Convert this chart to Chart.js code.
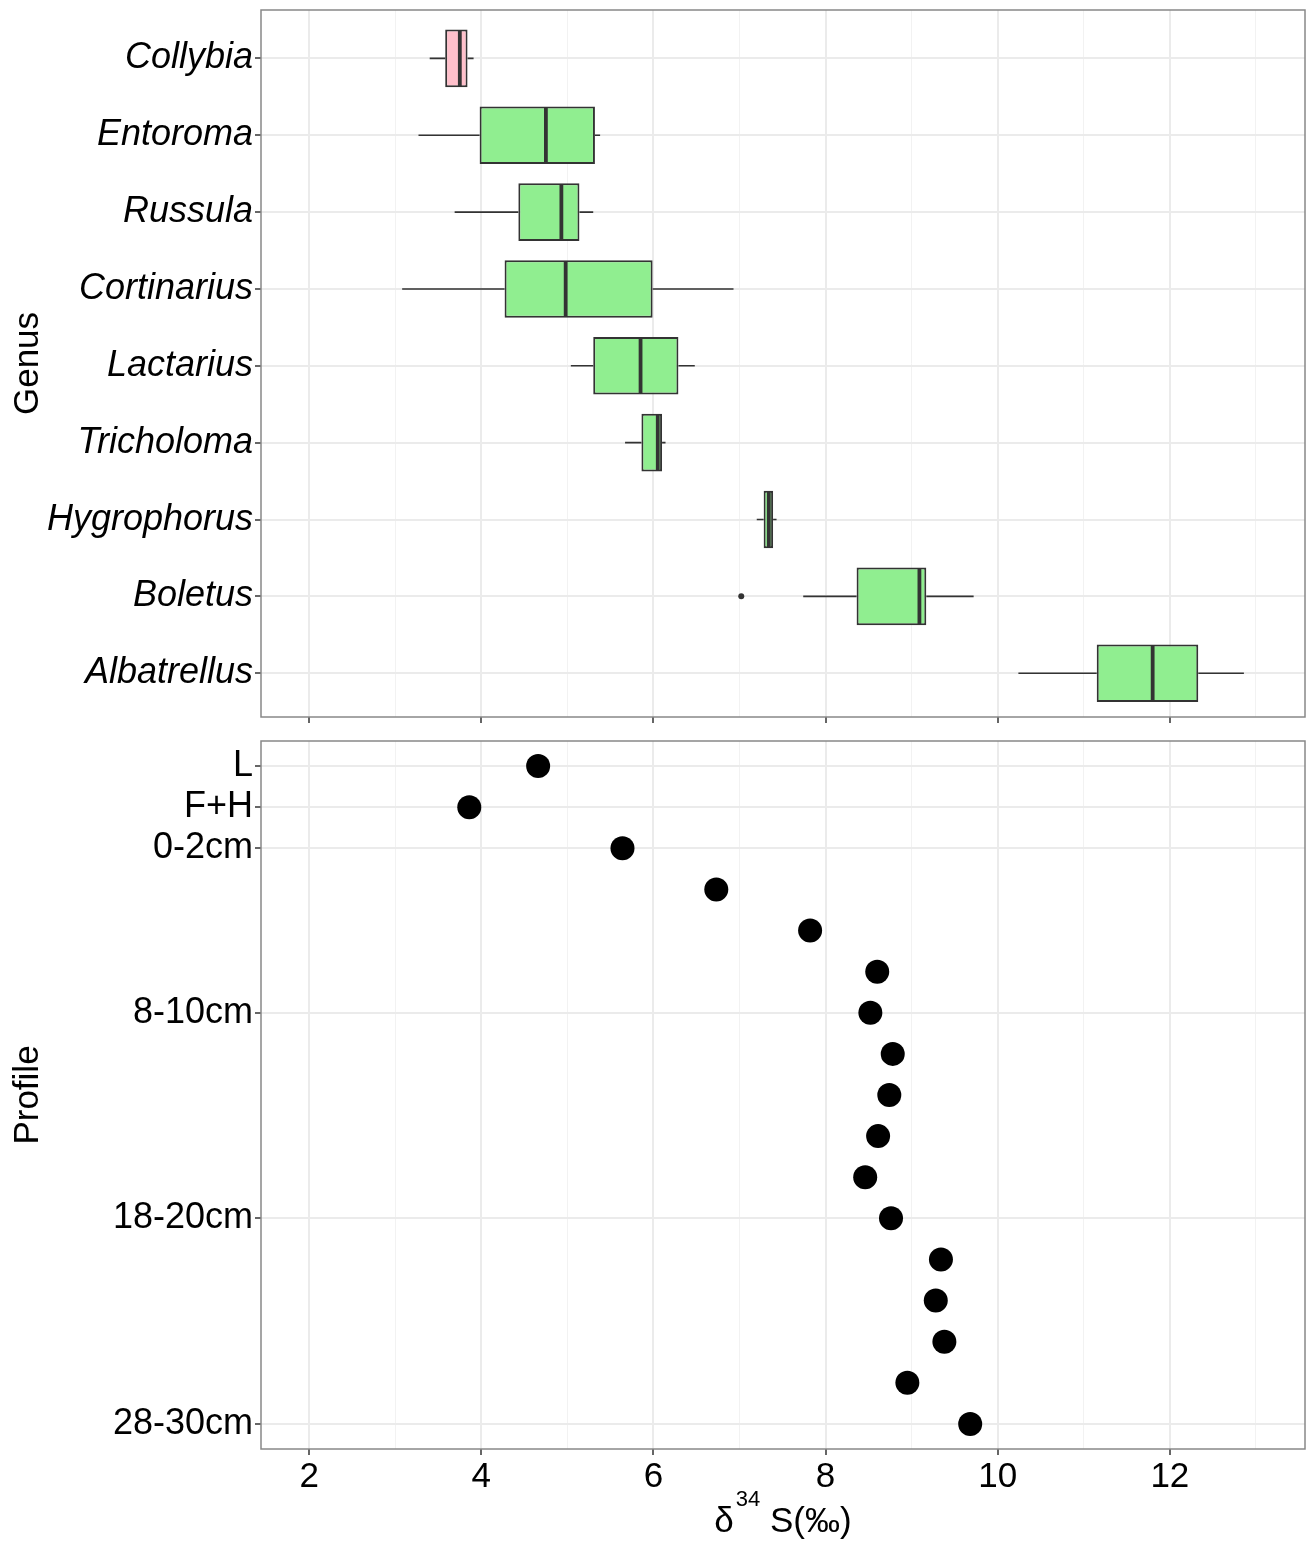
<!DOCTYPE html>
<html>
<head>
<meta charset="utf-8">
<script src="https://cdn.jsdelivr.net/npm/chart.js@4.4.0/dist/chart.umd.min.js"></script>
<style>
  html, body { margin: 0; padding: 0; background: #fff; }
  #wrap { position: relative; width: 1310px; height: 1544px; }
  canvas { position: absolute; left: 0; }
</style>
</head>
<body>
<div id="wrap">
  <canvas id="genusChart" width="1310" height="729" style="top:0;width:1310px;height:729px"></canvas>
  <canvas id="profileChart" width="1310" height="815" style="top:729px;width:1310px;height:815px"></canvas>
</div>
<script>
// Boxplot data per genus (d34S, permil)
const genera = ['Collybia', 'Entoroma', 'Russula', 'Cortinarius', 'Lactarius', 'Tricholoma', 'Hygrophorus', 'Boletus', 'Albatrellus'];
const boxLow    = [3.40, 3.27, 3.69, 3.08, 5.04, 5.67, 7.20, 7.74, 10.24];
const boxQ1     = [3.58, 3.98, 4.43, 4.27, 5.30, 5.86, 7.28, 8.36, 11.15];
const boxMedian = [3.75, 4.75, 4.93, 4.98, 5.85, 6.05, 7.34, 9.09, 11.80];
const boxQ3     = [3.84, 5.32, 5.14, 5.99, 6.29, 6.10, 7.39, 9.17, 12.33];
const boxHigh   = [3.91, 5.38, 5.30, 6.93, 6.48, 6.14, 7.43, 9.72, 12.86];
const boxColors = ['#ffc0cb', '#90ee90', '#90ee90', '#90ee90', '#90ee90', '#90ee90', '#90ee90', '#90ee90', '#90ee90'];
const outlierGenus  = ['Boletus'];
const outlierValues = [7.02];

// Soil profile
const depthLabels = ['L', 'F+H', '0-2cm', '2-4cm', '4-6cm', '6-8cm', '8-10cm', '10-12cm', '12-14cm', '14-16cm',
                     '16-18cm', '18-20cm', '20-22cm', '22-24cm', '24-26cm', '26-28cm', '28-30cm'];
const profileValues = [4.66, 3.86, 5.64, 6.73, 7.82, 8.60, 8.52, 8.78, 8.74, 8.61, 8.46, 8.76, 9.34, 9.28, 9.38, 8.95, 9.68];
const profileTickLabels = ['L', 'F+H', '0-2cm', '8-10cm', '18-20cm', '28-30cm'];

const xTickValues = [2, 3, 4, 5, 6, 7, 8, 9, 10, 11, 12, 13];

const FONT = "'Liberation Sans', Arial, sans-serif";
Chart.defaults.font.family = FONT;
Chart.defaults.animation = false;

const isMajor = c => c.tick && c.tick.value % 2 === 0;

// fixed axis width, no extra label padding
function fixWidth(s) {
    s.width = 261;
    s.paddingTop = 0;
    s.paddingBottom = 0;
}

function xScaleOptions(showLabels) {
    return {
        type: 'linear',
        min: 1.44,
        max: 13.57,
        offset: false,
        afterBuildTicks: s => { s.ticks = xTickValues.map(v => ({ value: v })); },
        afterFit: s => { s.height = showLabels ? 95 : 12; s.paddingLeft = 0; s.paddingRight = 0; },
        border: { display: false },
        grid: {
            offset: false,
            color: c => isMajor(c) ? '#ebebeb' : '#f2f2f2',
            lineWidth: c => isMajor(c) ? 2 : 1,
            tickColor: c => isMajor(c) ? '#333' : 'rgba(0,0,0,0)',
            tickLength: 6,
            tickWidth: 1.5
        },
        ticks: {
            display: showLabels,
            autoSkip: false,
            maxRotation: 0,
            padding: 1,
            color: '#000',
            font: { size: 35 },
            callback: v => v % 2 === 0 ? String(v) : ''
        }
    };
}

// panel border all round
const panelBorder = {
    id: 'panelBorder',
    afterDraw(chart) {
        const { ctx, chartArea: a } = chart;
        ctx.save();
        ctx.strokeStyle = '#888';
        ctx.lineWidth = 1.5;
        ctx.strokeRect(a.left, a.top, a.right - a.left, a.bottom - a.top);
        ctx.restore();
    }
};

// whiskers and medians
const boxWhiskers = {
    id: 'boxWhiskers',
    afterDatasetsDraw(chart) {
        const { ctx, scales: { x, y } } = chart;
        const bars = chart.getDatasetMeta(0).data;
        ctx.save();
        ctx.strokeStyle = '#333';
        genera.forEach((g, i) => {
            const yc = y.getPixelForValue(i);
            const half = bars[i].height / 2;
            ctx.lineWidth = 1.6;
            ctx.beginPath();
            ctx.moveTo(x.getPixelForValue(boxLow[i]), yc);
            ctx.lineTo(x.getPixelForValue(boxQ1[i]), yc);
            ctx.moveTo(x.getPixelForValue(boxQ3[i]), yc);
            ctx.lineTo(x.getPixelForValue(boxHigh[i]), yc);
            ctx.stroke();
            const xm = x.getPixelForValue(boxMedian[i]);
            ctx.lineWidth = 3.8;
            ctx.beginPath();
            ctx.moveTo(xm, yc - half + 1);
            ctx.lineTo(xm, yc + half - 1);
            ctx.stroke();
        });
        ctx.restore();
    }
};

// x axis title with superscript
const deltaTitle = {
    id: 'deltaTitle',
    afterDraw(chart) {
        const { ctx, chartArea: a } = chart;
        const cx = (a.left + a.right) / 2;
        const cy = a.bottom + 73;
        ctx.save();
        ctx.fillStyle = '#000';
        ctx.textBaseline = 'middle';
        ctx.textAlign = 'left';
        const big = '35px ' + FONT, small = '22px ' + FONT;
        ctx.font = big;
        const w1 = ctx.measureText('\u03b4').width;
        const w3 = ctx.measureText(' S(\u2030)').width;
        ctx.font = small;
        const w2 = ctx.measureText('34').width;
        let x0 = cx - (w1 + 2 + w2 + w3) / 2;
        ctx.font = big;
        ctx.fillText('\u03b4', x0, cy);
        ctx.font = small;
        ctx.fillText('34', x0 + w1 + 2, cy - 22);
        ctx.font = big;
        ctx.fillText(' S(\u2030)', x0 + w1 + 2 + w2, cy);
        ctx.restore();
    }
};

// Top panel - boxplots by genus
new Chart(document.getElementById('genusChart').getContext('2d'), {
    type: 'bar',
    data: {
        datasets: [
            {
                type: 'bar',
                data: genera.map((g, i) => ({ x: [boxQ1[i], boxQ3[i]], y: i })),
                backgroundColor: boxColors,
                borderColor: '#333',
                borderWidth: 2,
                borderSkipped: false,
                barPercentage: 0.75,
                categoryPercentage: 1
            },
            {
                type: 'scatter',
                data: outlierGenus.map((g, k) => ({ x: outlierValues[k], y: genera.indexOf(g) })),
                pointRadius: 3,
                backgroundColor: '#333',
                borderWidth: 0
            }
        ]
    },
    options: {
        indexAxis: 'y',
        responsive: false,
        events: [],
        layout: { autoPadding: false, padding: { top: 10, right: 5, left: 0, bottom: 0 } },
        plugins: { legend: { display: false }, tooltip: { enabled: false } },
        scales: {
            x: xScaleOptions(false),
            y: {
                type: 'linear',
                reverse: true,
                min: -0.63,
                max: 8.57,
                offset: false,
                afterBuildTicks: s => { s.ticks = genera.map((g, i) => ({ value: i })); },
                afterFit: fixWidth,
                border: { display: false },
                grid: { offset: false, color: '#ebebeb', lineWidth: 2, tickColor: '#333', tickLength: 6, tickWidth: 1.5 },
                ticks: {
                    autoSkip: false,
                    padding: 2,
                    color: '#000',
                    font: { size: 36, style: 'italic' },
                    callback: v => genera[v] ?? ''
                },
                title: { display: true, text: 'Genus', color: '#000', font: { size: 35 }, padding: { top: 7, bottom: 0 } }
            }
        }
    },
    plugins: [boxWhiskers, panelBorder]
});

// Bottom panel - soil profile
new Chart(document.getElementById('profileChart').getContext('2d'), {
    type: 'scatter',
    data: {
        datasets: [{
            data: profileValues.map((v, i) => ({ x: v, y: i })),
            pointRadius: 12,
            backgroundColor: '#000',
            borderWidth: 0
        }]
    },
    options: {
        responsive: false,
        events: [],
        layout: { autoPadding: false, padding: { top: 12, right: 5, left: 0, bottom: 0 } },
        plugins: { legend: { display: false }, tooltip: { enabled: false } },
        scales: {
            x: xScaleOptions(true),
            y: {
                type: 'linear',
                reverse: true,
                min: -0.61,
                max: 16.61,
                afterBuildTicks: s => { s.ticks = profileTickLabels.map(l => ({ value: depthLabels.indexOf(l) })); },
                afterFit: fixWidth,
                border: { display: false },
                grid: { color: '#ebebeb', lineWidth: 2, tickColor: '#333', tickLength: 6, tickWidth: 1.5 },
                ticks: {
                    autoSkip: false,
                    padding: 2,
                    color: '#000',
                    font: { size: 36 },
                    callback: v => depthLabels[v] ?? ''
                },
                title: { display: true, text: 'Profile', color: '#000', font: { size: 35 }, padding: { top: 7, bottom: 0 } }
            }
        }
    },
    plugins: [panelBorder, deltaTitle]
});
</script>
</body>
</html>
